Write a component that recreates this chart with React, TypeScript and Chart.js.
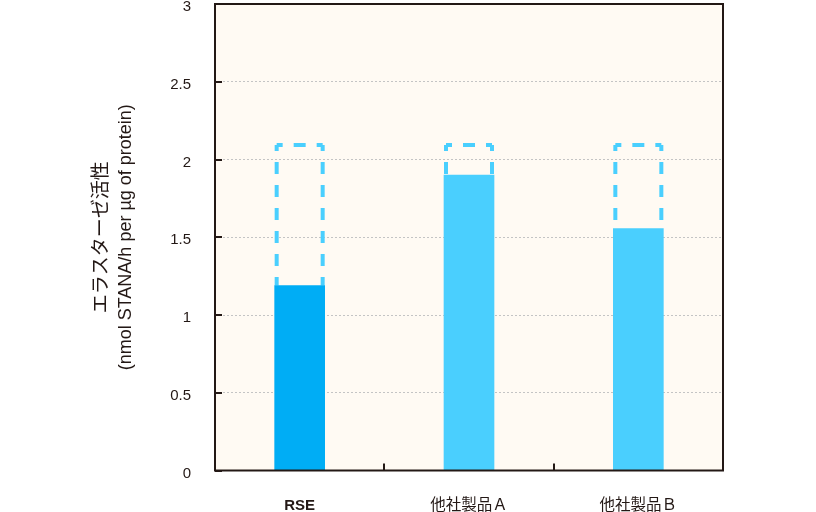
import React, { useEffect, useRef } from "react";
import { Chart, registerables } from "chart.js";

Chart.register(...registerables);

const categories = ["RSE", "他社製品Ａ", "他社製品Ｂ"];
const activity = [1.19, 1.9, 1.555];
const upperRange = [2.1, 2.1, 2.1];
const barColors = ["#00adf5", "#4acffe", "#4acffe"];
const yTicks = [0, 0.5, 1, 1.5, 2, 2.5, 3];
const titleLines = ["エラスターゼ活性", "(nmol STANA/h per µg of protein)"];

const FONT = "'Liberation Sans', 'Noto Sans CJK JP', sans-serif";
const INK = "#231815";

const decorPlugin = {
  id: "decor",
  beforeDraw(chart: any) {
    const { ctx, chartArea: a } = chart;
    ctx.save();
    ctx.fillStyle = "#fffaf3";
    ctx.fillRect(a.left, a.top, a.right - a.left, a.bottom - a.top);
    ctx.restore();
  },
  beforeDatasetsDraw(chart: any) {
    const { ctx, scales } = chart;
    const meta = chart.getDatasetMeta(0);
    ctx.save();
    ctx.strokeStyle = "#4acffe";
    ctx.lineWidth = 4;
    ctx.setLineDash([12, 11]);
    ctx.lineDashOffset = 6;
    meta.data.forEach((bar: any, i: number) => {
      const half = bar.width / 2;
      const l = bar.x - half + 2;
      const r = bar.x + half - 2;
      const t = scales.y.getPixelForValue(upperRange[i]) + 1;
      const b = scales.y.getPixelForValue(activity[i]);
      ctx.beginPath();
      ctx.moveTo(l, t);
      ctx.lineTo(r, t);
      ctx.stroke();
      ctx.beginPath();
      ctx.moveTo(l, t);
      ctx.lineTo(l, b);
      ctx.stroke();
      ctx.beginPath();
      ctx.moveTo(r, t);
      ctx.lineTo(r, b);
      ctx.stroke();
    });
    ctx.restore();
  },
  afterDraw(chart: any) {
    const { ctx, chartArea: a, scales } = chart;
    ctx.save();
    ctx.strokeStyle = INK;
    ctx.lineWidth = 2;
    ctx.strokeRect(a.left, a.top, a.right - a.left, a.bottom - a.top);
    ctx.beginPath();
    yTicks.forEach((v) => {
      const y = Math.round(scales.y.getPixelForValue(v));
      ctx.moveTo(a.left, y);
      ctx.lineTo(a.left + 7, y);
    });
    for (let i = 1; i < categories.length; i++) {
      const x = Math.round(
        (scales.x.getPixelForValue(i - 1) + scales.x.getPixelForValue(i)) / 2
      );
      ctx.moveTo(x, a.bottom);
      ctx.lineTo(x, a.bottom - 7);
    }
    ctx.stroke();
    // axis title
    ctx.fillStyle = INK;
    ctx.textAlign = "center";
    ctx.textBaseline = "middle";
    const cy = (a.top + a.bottom) / 2;
    const xs = [102, 126];
    const sizes = [19, 18];
    titleLines.forEach((line, i) => {
      ctx.save();
      ctx.font = `${sizes[i]}px ${FONT}`;
      ctx.translate(xs[i], cy);
      ctx.rotate(-Math.PI / 2);
      ctx.fillText(line, 0, 0);
      ctx.restore();
    });
    ctx.restore();
  },
};

export default function App() {
  const ref = useRef<HTMLCanvasElement | null>(null);
  useEffect(() => {
    if (!ref.current) return;
    const chart = new Chart(ref.current, {
      type: "bar",
      data: {
        labels: categories,
        datasets: [
          {
            data: activity,
            backgroundColor: barColors,
            barThickness: 50,
            borderWidth: 0,
          },
        ],
      },
      options: {
        responsive: false,
        animation: false,
        layout: { padding: { left: 0, right: 93, top: 4, bottom: 0 } },
        plugins: { legend: { display: false }, tooltip: { enabled: false } },
        scales: {
          x: {
            grid: { display: false, drawTicks: false },
            border: { display: false },
            ticks: {
              color: INK,
              padding: 26,
              font: (c: any) => ({
                family: FONT,
                size: c.index === 0 ? 15 : 15.5,
                weight: c.index === 0 ? "bold" : "normal",
              }),
            },
            afterFit: (s: any) => {
              s.height = 41.5;
              s.paddingLeft = 0;
              s.paddingRight = 0;
            },
          },
          y: {
            min: 0,
            max: 3,
            ticks: {
              stepSize: 0.5,
              color: INK,
              padding: 24,
              labelOffset: 3,
              font: { family: FONT, size: 15 },
              callback: (v: any) => String(v),
            },
            grid: {
              color: "#c4c4c4",
              lineWidth: 1,
              drawTicks: false,
            },
            border: { display: false, dash: [2, 2] },
            afterFit: (s: any) => {
              s.width = 215;
              s.paddingTop = 0;
              s.paddingBottom = 0;
            },
          },
        },
      },
      plugins: [decorPlugin],
    } as any);
    return () => chart.destroy();
  }, []);
  return (
    <div style={{ position: "fixed", left: 0, top: 0, width: 816, height: 512 }}>
      <canvas ref={ref} width={816} height={512} />
    </div>
  );
}
